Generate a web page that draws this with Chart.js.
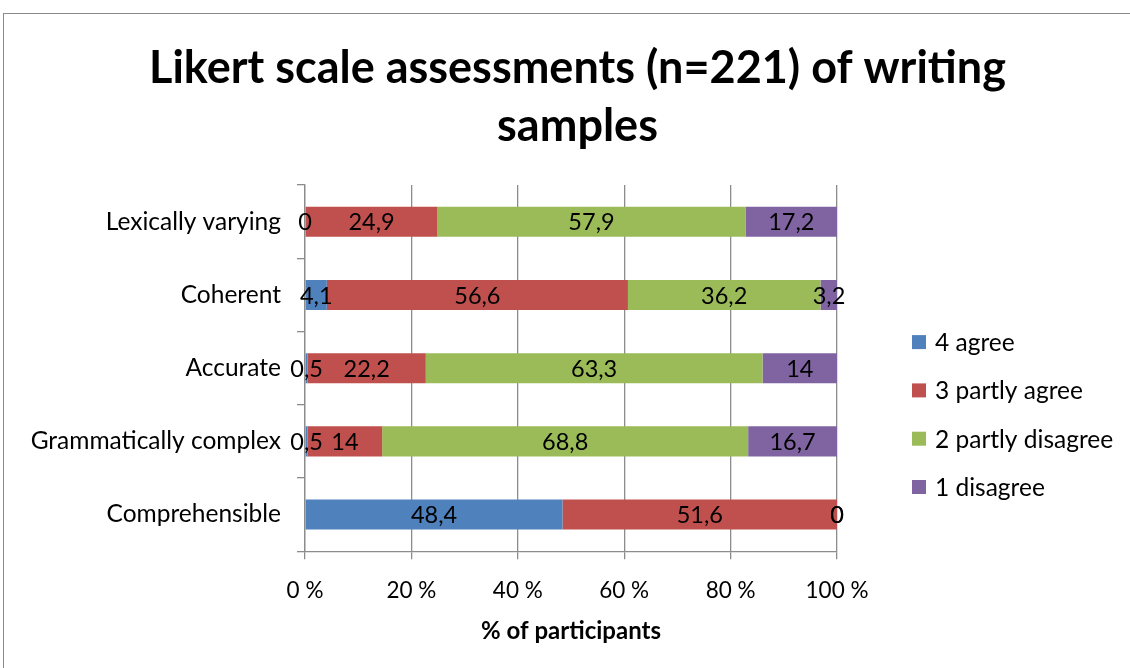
<!DOCTYPE html>
<html>
<head>
<meta charset="utf-8">
<script src="https://cdn.jsdelivr.net/npm/chart.js@4"></script>
<style>
    html, body { margin: 0; padding: 0; background: #FFFFFF; overflow: hidden; }
    #wrap { position: relative; width: 1130px; height: 668px; }
    #frame { position: absolute; left: 3px; top: 13px; width: 1140px; height: 700px; border: 1.5px solid #8A8A8A; box-sizing: border-box; }
    #graph_likert { position: absolute; left: 0; top: 0; }
</style>
</head>
<body>
<div id="wrap">
    <div id="frame"></div>
    <canvas id="graph_likert" width="1130" height="668"></canvas>
</div>
<script>

var LABELS_CATEGORIES                                       = ['Lexically varying', 'Coherent', 'Accurate', 'Grammatically complex', 'Comprehensible'];
var LABELS_SERIES                                           = ['4 agree', '3 partly agree', '2 partly disagree', '1 disagree'];
var TICKS_X                                                 = [0, 20, 40, 60, 80, 100];

var data_agree                                              = [0, 4.1, 0.5, 0.5, 48.4];
var data_partly_agree                                       = [24.9, 56.6, 22.2, 14, 51.6];
var data_partly_disagree                                    = [57.9, 36.2, 63.3, 68.8, 0];
var data_disagree                                           = [17.2, 3.2, 14, 16.7, 0];

var COLORS_SERIES                                           = ['#4F81BD', '#C0504D', '#9BBB59', '#8064A2'];

var FONT_FAMILY                                             = 'Lato, "Open Sans", sans-serif';

var graph_likert_chart                                      = null;



function graph_format_value(value) {

    return String(value).replace('.', ',');
}



/**-- Value labels in the middle of each bar --**/

var plugin_bar_labels = {
    id: 'bar_labels',
    afterDatasetsDraw: function(chart) {

        var ctx = chart.ctx;

        ctx.save();
        ctx.font = '23.5px ' + FONT_FAMILY;
        ctx.fillStyle = '#000000';
        ctx.textAlign = 'center';
        ctx.textBaseline = 'middle';

        chart.data.datasets.forEach(function(dataset, i) {

            var meta = chart.getDatasetMeta(i);

            meta.data.forEach(function(bar, j) {
                var x = (bar.x + bar.base) / 2;
                ctx.fillText(graph_format_value(dataset.data[j]), x, bar.y + 1);
            });
        });

        ctx.restore();
    }
};



/**-- Legend in the space kept free by the right spacer axis --**/

var plugin_side_legend = {
    id: 'side_legend',
    afterDraw: function(chart) {

        var ctx = chart.ctx;
        var left = chart.chartArea.right + 75;
        var top = chart.chartArea.top + 157;

        ctx.save();
        ctx.font = '24.5px ' + FONT_FAMILY;
        ctx.textAlign = 'left';
        ctx.textBaseline = 'middle';

        chart.data.datasets.forEach(function(dataset, i) {
            var y = top + i * 48.3;
            ctx.fillStyle = dataset.backgroundColor;
            ctx.fillRect(left, y - 7, 14, 14);
            ctx.fillStyle = '#000000';
            ctx.fillText(dataset.label, left + 23, y + 1);
        });

        ctx.restore();
    }
};



function graph_data() {

    var series = [data_agree, data_partly_agree, data_partly_disagree, data_disagree];

    return {
        labels: LABELS_CATEGORIES,
        datasets: series.map(function(values, i) {
            return {
                label: LABELS_SERIES[i],
                data: values,
                xAxisID: 'x',
                yAxisID: 'y',
                backgroundColor: COLORS_SERIES[i],
                borderWidth: 0,
                categoryPercentage: 1,
                barPercentage: 0.41,
            };
        })
    };
}



function graph_options() {

    return {
        indexAxis: 'y',
        responsive: false,
        animation: false,
        layout: {
            padding: {
                left: 25,
                right: 0,
                top: 0,
                bottom: 22,
            }
        },
        scales: {
            y: {
                stacked: true,
                afterFit: function(scale) { scale.width = 280; },
                ticks: {
                    color: '#000000',
                    padding: 16,
                    font: { family: FONT_FAMILY, size: 24.5 },
                },
                grid: {
                    offset: true,
                    drawOnChartArea: false,
                    color: '#8C8C8C',
                    lineWidth: 1.3,
                    tickLength: 8,
                },
                border: {
                    color: '#8C8C8C',
                    width: 1.3,
                }
            },
            y_space: {
                type: 'category',
                axis: 'y',
                position: 'right',
                afterFit: function(scale) { scale.width = 293; },
                ticks: { display: false },
                grid: { display: false },
                border: { display: false },
            },
            x: {
                stacked: true,
                min: 0,
                max: 100,
                afterBuildTicks: function(scale) {
                    scale.ticks = TICKS_X.map(function(v) { return { value: v }; });
                },
                ticks: {
                    color: '#000000',
                    padding: 18,
                    font: { family: FONT_FAMILY, size: 22.5 },
                    callback: function(value) { return value + ' %'; }
                },
                grid: {
                    color: '#8C8C8C',
                    lineWidth: 1.3,
                    tickLength: 8,
                },
                border: {
                    color: '#8C8C8C',
                    width: 1.3,
                },
                title: {
                    display: true,
                    text: '% of participants',
                    color: '#000000',
                    font: { family: FONT_FAMILY, size: 24, weight: 'bold' },
                    padding: { top: -5, bottom: 0 },
                }
            }
        },
        plugins: {
            legend: {
                display: false
            },
            tooltip: {
                enabled: false
            },
            title: {
                display: true,
                text: ['Likert scale assessments (n=221) of writing', 'samples'],
                color: '#000000',
                font: { family: FONT_FAMILY, size: 45, weight: 'bold', lineHeight: 1.29 },
                padding: { top: 39, bottom: 30 },
            }
        }
    };
}



function graph_draw() {

    var canvas = document.getElementById('graph_likert');

    if (graph_likert_chart !== null) {
        graph_likert_chart.destroy();
    }

    graph_likert_chart = new Chart(canvas, {
        type: 'bar',
        data: graph_data(),
        options: graph_options(),
        plugins: [plugin_bar_labels, plugin_side_legend],
    });
}

graph_draw();

</script>
</body>
</html>
